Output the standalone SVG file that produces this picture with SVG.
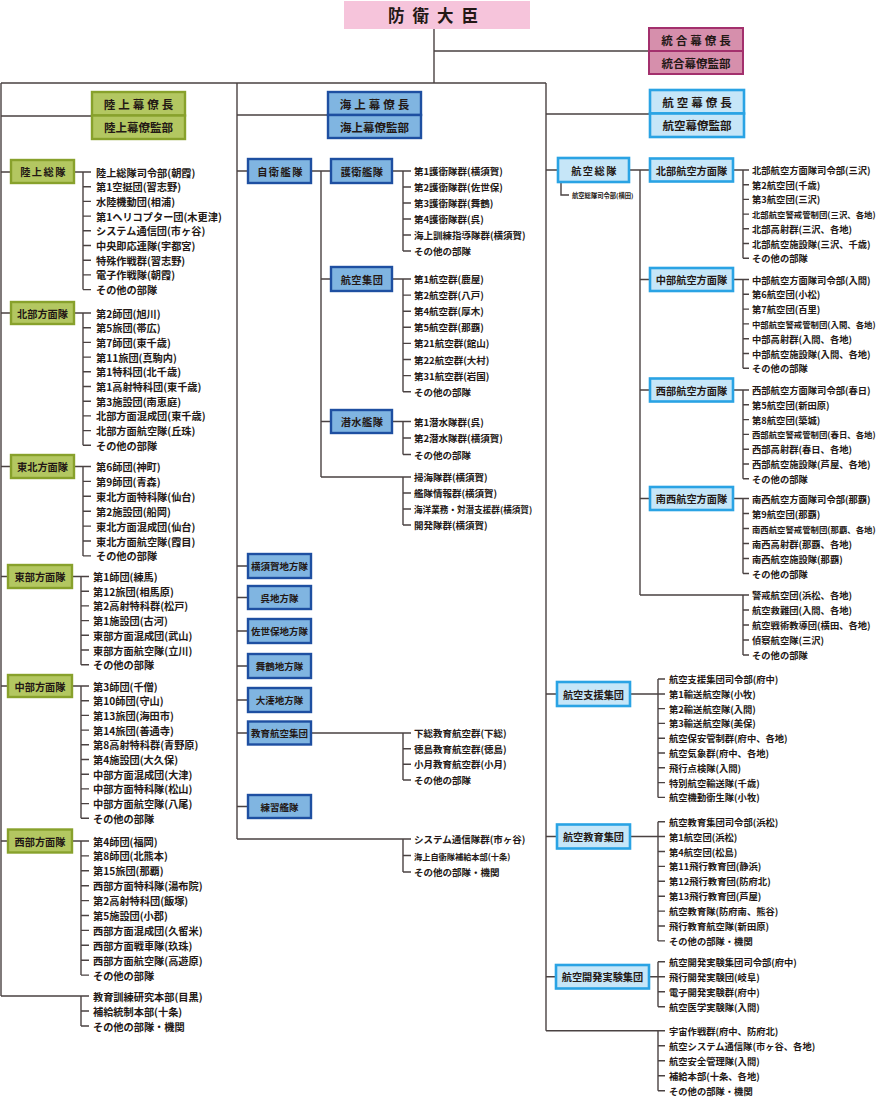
<svg xmlns="http://www.w3.org/2000/svg" width="878" height="1098" viewBox="0 0 878 1098">
<style>
.ln{stroke:#4a4242;stroke-width:1.4;fill:none}
.t{font-family:"Noto Sans CJK JP","Noto Sans CJK SC",sans-serif;fill:#231815;dominant-baseline:central}
.l{font-size:10.2px;font-weight:600}
.mm{font-size:9.5px;font-weight:600}
.r{font-size:9.3px;font-weight:600}
.nar{font-size:8.4px}
.b{font-weight:700;text-anchor:middle}
.g{fill:#b3c761;stroke:#88a12c;stroke-width:2.4}
.n{fill:#80b5e1;stroke:#1e4fa1;stroke-width:2.4}
.s{fill:#c6e6f8;stroke:#2aa3e4;stroke-width:2.6}
.mg{fill:#d68fac;stroke:#a3306d;stroke-width:2}
</style>
<g id="connectors" class="ln">
<path d="M434,29V83M434,51H649M1,83H546M1,83V996M237,83V839M546,83V1030.7M1,116H92M237,115H328M546,114H650"/>
<path d="M1,172H11M74,172H91M83,172V289.6M83,186.7H91M83,201.4H91M83,216.1H91M83,230.8H91M83,245.5H91M83,260.2H91M83,274.9H91M83,289.6H91"/>
<path d="M1,313H11M74,313H91M83,313V445.3M83,327.7H91M83,342.4H91M83,357.1H91M83,371.8H91M83,386.5H91M83,401.2H91M83,415.9H91M83,430.6H91M83,445.3H91"/>
<path d="M1,466.5H11M74,466.5H91M83,466.5V555.9M83,481.4H91M83,496.3H91M83,511.2H91M83,526.1H91M83,541H91M83,555.9H91"/>
<path d="M1,576.5H8M72,576.5H89M81,576.5V664.7M81,591.2H89M81,605.9H89M81,620.6H89M81,635.3H89M81,650H89M81,664.7H89"/>
<path d="M1,686H8M72,686H89M81,686V818.3M81,700.7H89M81,715.4H89M81,730.1H89M81,744.8H89M81,759.5H89M81,774.2H89M81,788.9H89M81,803.6H89M81,818.3H89"/>
<path d="M1,841H8M72,841H89M81,841V975.1M81,855.9H89M81,870.8H89M81,885.7H89M81,900.6H89M81,915.5H89M81,930.4H89M81,945.3H89M81,960.2H89M81,975.1H89"/>
<path d="M1,996H89M81,996V1026M81,1011H89M81,1026H89"/>
<path d="M237,171H248M311,171H331M321,171V477M321,279H331M321,421.5H331M321,477H411M403,477V525M403,493H411M403,509H411M403,525H411"/>
<path d="M392,171H411M403,171V251M403,187H411M403,203H411M403,219H411M403,235H411M403,251H411"/>
<path d="M392,279H411M403,279V391.7M403,295.1H411M403,311.2H411M403,327.3H411M403,343.4H411M403,359.5H411M403,375.6H411M403,391.7H411"/>
<path d="M392,421.5H411M403,421.5V454.5M403,438H411M403,454.5H411"/>
<path d="M237,566H248M237,597.5H248M237,631H248M237,666H248M237,700H248M237,733H248M237,806.5H248"/>
<path d="M311,733H411M403,733V780M403,748.7H411M403,764.3H411M403,780H411"/>
<path d="M237,839H411M403,839V872M403,855.5H411M403,872H411"/>
<path d="M546,170H558M561,182V195H569M629,170H650M640,170V595M640,279.5H650M640,390H650M640,498.5H650M640,595H749M743,595V655M743,610H749M743,625H749M743,640H749M743,655H749"/>
<path d="M733,170H749M743,170V258.2M743,184.7H749M743,199.4H749M743,214.1H749M743,228.8H749M743,243.5H749M743,258.2H749"/>
<path d="M733,279.5H749M743,279.5V368.3M743,294.3H749M743,309.1H749M743,323.9H749M743,338.7H749M743,353.5H749M743,368.3H749"/>
<path d="M733,390H749M743,390V478.8M743,404.8H749M743,419.6H749M743,434.4H749M743,449.2H749M743,464H749M743,478.8H749"/>
<path d="M733,498.5H749M743,498.5V573.5M743,513.5H749M743,528.5H749M743,543.5H749M743,558.5H749M743,573.5H749"/>
<path d="M546,694H557M630,694H665M658,679V797.4M658,679H665M658,708.6H665M658,723.4H665M658,738.2H665M658,753H665M658,767.8H665M658,782.6H665M658,797.4H665"/>
<path d="M546,836.5H557M630,836.5H665M658,821.7V940.9M658,821.7H665M658,851.5H665M658,866.4H665M658,881.3H665M658,896.2H665M658,911.1H665M658,926H665M658,940.9H665"/>
<path d="M546,976.7H556M649,976.7H665M658,961.7V1006.7M658,961.7H665M658,991.7H665M658,1006.7H665"/>
<path d="M546,1030.7H665M658,1030.7V1090.7M658,1045.7H665M658,1060.7H665M658,1075.7H665M658,1090.7H665"/>
</g>
<g id="minister"><rect x="344" y="1" width="186" height="28" fill="#f6c4db"/><text class="t" x="388" y="15" style="font-size:16.5px;font-weight:700;letter-spacing:8px">防衛大臣</text></g>
<g id="joint"><rect class="mg" x="649" y="28" width="94" height="23"/><rect class="mg" x="649" y="51" width="94" height="23"/><text class="t b" x="697.5" y="39.5" style="font-size:11.5px;letter-spacing:3px">統合幕僚長</text><text class="t b" x="696" y="62.5" style="font-size:11.5px">統合幕僚監部</text></g>
<g id="gsdf"><rect class="g" x="92" y="92" width="93" height="23.5"/><rect class="g" x="92" y="115.5" width="93" height="23.5"/><text class="t b" x="140" y="104" style="font-size:11.5px;letter-spacing:3px">陸上幕僚長</text><text class="t b" x="138.5" y="127.3" style="font-size:11.5px">陸上幕僚監部</text></g>
<g id="msdf"><rect class="n" x="328" y="92" width="93" height="23"/><rect class="n" x="328" y="115" width="93" height="23"/><text class="t b" x="376" y="103.5" style="font-size:11.5px;letter-spacing:3px">海上幕僚長</text><text class="t b" x="374.5" y="126.5" style="font-size:11.5px">海上幕僚監部</text></g>
<g id="asdf"><rect class="s" x="650" y="90" width="94" height="23.5"/><rect class="s" x="650" y="113.5" width="94" height="23.5"/><text class="t b" x="698.5" y="102" style="font-size:11.5px;letter-spacing:3px">航空幕僚長</text><text class="t b" x="697" y="125.3" style="font-size:11.5px">航空幕僚監部</text></g>

<g id="g-soutai"><rect class="g" x="11" y="160" width="63" height="23"/><text class="t b" x="43.5" y="171.5" style="font-size:10.2px;letter-spacing:1.5px">陸上総隊</text>
<g class="t l"><text x="96" y="172">陸上総隊司令部(朝霞)</text><text x="96" y="186.7">第1空挺団(習志野)</text><text x="96" y="201.4">水陸機動団(相浦)</text><text x="96" y="216.1">第1ヘリコプター団(木更津)</text><text x="96" y="230.8">システム通信団(市ヶ谷)</text><text x="96" y="245.5">中央即応連隊(宇都宮)</text><text x="96" y="260.2">特殊作戦群(習志野)</text><text x="96" y="274.9">電子作戦隊(朝霞)</text><text x="96" y="289.6">その他の部隊</text></g></g>
<g id="g-hokubu"><rect class="g" x="11" y="302" width="63" height="22"/><text class="t b" x="42.5" y="313" style="font-size:10.2px">北部方面隊</text>
<g class="t l"><text x="96" y="313">第2師団(旭川)</text><text x="96" y="327.7">第5旅団(帯広)</text><text x="96" y="342.4">第7師団(東千歳)</text><text x="96" y="357.1">第11旅団(真駒内)</text><text x="96" y="371.8">第1特科団(北千歳)</text><text x="96" y="386.5">第1高射特科団(東千歳)</text><text x="96" y="401.2">第3施設団(南恵庭)</text><text x="96" y="415.9">北部方面混成団(東千歳)</text><text x="96" y="430.6">北部方面航空隊(丘珠)</text><text x="96" y="445.3">その他の部隊</text></g></g>
<g id="g-tohoku"><rect class="g" x="11" y="455" width="63" height="23"/><text class="t b" x="42.5" y="466.5" style="font-size:10.2px">東北方面隊</text>
<g class="t l"><text x="96" y="466.5">第6師団(神町)</text><text x="96" y="481.4">第9師団(青森)</text><text x="96" y="496.3">東北方面特科隊(仙台)</text><text x="96" y="511.2">第2施設団(船岡)</text><text x="96" y="526.1">東北方面混成団(仙台)</text><text x="96" y="541">東北方面航空隊(霞目)</text><text x="96" y="555.9">その他の部隊</text></g></g>
<g id="g-tobu"><rect class="g" x="8" y="565" width="64" height="23"/><text class="t b" x="40" y="576.5" style="font-size:10.2px">東部方面隊</text>
<g class="t l"><text x="93" y="576.5">第1師団(練馬)</text><text x="93" y="591.2">第12旅団(相馬原)</text><text x="93" y="605.9">第2高射特科群(松戸)</text><text x="93" y="620.6">第1施設団(古河)</text><text x="93" y="635.3">東部方面混成団(武山)</text><text x="93" y="650">東部方面航空隊(立川)</text><text x="93" y="664.7">その他の部隊</text></g></g>
<g id="g-chubu"><rect class="g" x="8" y="675" width="64" height="22"/><text class="t b" x="40" y="686" style="font-size:10.2px">中部方面隊</text>
<g class="t l"><text x="93" y="686">第3師団(千僧)</text><text x="93" y="700.7">第10師団(守山)</text><text x="93" y="715.4">第13旅団(海田市)</text><text x="93" y="730.1">第14旅団(善通寺)</text><text x="93" y="744.8">第8高射特科群(青野原)</text><text x="93" y="759.5">第4施設団(大久保)</text><text x="93" y="774.2">中部方面混成団(大津)</text><text x="93" y="788.9">中部方面特科隊(松山)</text><text x="93" y="803.6">中部方面航空隊(八尾)</text><text x="93" y="818.3">その他の部隊</text></g></g>
<g id="g-seibu"><rect class="g" x="8" y="829.5" width="64" height="23"/><text class="t b" x="40" y="841" style="font-size:10.2px">西部方面隊</text>
<g class="t l"><text x="93" y="841">第4師団(福岡)</text><text x="93" y="855.9">第8師団(北熊本)</text><text x="93" y="870.8">第15旅団(那覇)</text><text x="93" y="885.7">西部方面特科隊(湯布院)</text><text x="93" y="900.6">第2高射特科団(飯塚)</text><text x="93" y="915.5">第5施設団(小郡)</text><text x="93" y="930.4">西部方面混成団(久留米)</text><text x="93" y="945.3">西部方面戦車隊(玖珠)</text><text x="93" y="960.2">西部方面航空隊(高遊原)</text><text x="93" y="975.1">その他の部隊</text></g></g>
<g id="g-other" class="t l"><text x="93" y="996">教育訓練研究本部(目黒)</text><text x="93" y="1011">補給統制本部(十条)</text><text x="93" y="1026">その他の部隊・機関</text></g>

<g id="m-jieikantai"><rect class="n" x="248" y="159" width="63" height="24"/><text class="t b" x="280.5" y="171" style="font-size:10.2px;letter-spacing:1.5px">自衛艦隊</text></g>
<g id="m-goei"><rect class="n" x="331" y="159" width="61" height="24"/><text class="t b" x="362" y="171" style="font-size:10.2px;letter-spacing:0.5px">護衛艦隊</text>
<g class="t mm"><text x="414" y="171">第1護衛隊群(横須賀)</text><text x="414" y="187">第2護衛隊群(佐世保)</text><text x="414" y="203">第3護衛隊群(舞鶴)</text><text x="414" y="219">第4護衛隊群(呉)</text><text x="414" y="235">海上訓練指導隊群(横須賀)</text><text x="414" y="251">その他の部隊</text></g></g>
<g id="m-koku"><rect class="n" x="331" y="267" width="61" height="24"/><text class="t b" x="362" y="279" style="font-size:10.2px;letter-spacing:0.5px">航空集団</text>
<g class="t mm"><text x="414" y="279">第1航空群(鹿屋)</text><text x="414" y="295.1">第2航空群(八戸)</text><text x="414" y="311.2">第4航空群(厚木)</text><text x="414" y="327.3">第5航空群(那覇)</text><text x="414" y="343.4">第21航空群(館山)</text><text x="414" y="359.5">第22航空群(大村)</text><text x="414" y="375.6">第31航空群(岩国)</text><text x="414" y="391.7">その他の部隊</text></g></g>
<g id="m-sensui"><rect class="n" x="331" y="410" width="61" height="23"/><text class="t b" x="362" y="421.5" style="font-size:10.2px;letter-spacing:0.5px">潜水艦隊</text>
<g class="t mm"><text x="414" y="421.5">第1潜水隊群(呉)</text><text x="414" y="438">第2潜水隊群(横須賀)</text><text x="414" y="454.5">その他の部隊</text></g></g>
<g id="m-fleet-other" class="t mm"><text x="414" y="477">掃海隊群(横須賀)</text><text x="414" y="493">艦隊情報群(横須賀)</text><text x="414" y="509" style="font-size:8.6px">海洋業務・対潜支援群(横須賀)</text><text x="414" y="525">開発隊群(横須賀)</text></g>
<g id="m-yokosuka"><rect class="n" x="248" y="554" width="63" height="24"/><text class="t b" x="279.5" y="566" style="font-size:9.5px">横須賀地方隊</text></g>
<g id="m-kure"><rect class="n" x="248" y="586" width="63" height="23"/><text class="t b" x="279.5" y="597.5" style="font-size:9.5px">呉地方隊</text></g>
<g id="m-sasebo"><rect class="n" x="248" y="619" width="63" height="24"/><text class="t b" x="279.5" y="631" style="font-size:9.5px">佐世保地方隊</text></g>
<g id="m-maizuru"><rect class="n" x="248" y="654" width="63" height="24"/><text class="t b" x="279.5" y="666" style="font-size:9.5px">舞鶴地方隊</text></g>
<g id="m-ominato"><rect class="n" x="248" y="688" width="63" height="24"/><text class="t b" x="279.5" y="700" style="font-size:9.5px">大湊地方隊</text></g>
<g id="m-kyoiku"><rect class="n" x="248" y="721.5" width="63" height="23"/><text class="t b" x="279.5" y="733" style="font-size:9.5px">教育航空集団</text>
<g class="t mm"><text x="414" y="733">下総教育航空群(下総)</text><text x="414" y="748.7">徳島教育航空群(徳島)</text><text x="414" y="764.3">小月教育航空群(小月)</text><text x="414" y="780">その他の部隊</text></g></g>
<g id="m-renshu"><rect class="n" x="248" y="795" width="63" height="23"/><text class="t b" x="279.5" y="806.5" style="font-size:9.5px">練習艦隊</text></g>
<g id="m-other" class="t mm"><text x="414" y="839">システム通信隊群(市ヶ谷)</text><text x="414" y="855.5" style="font-size:8.2px">海上自衛隊補給本部(十条)</text><text x="414" y="872">その他の部隊・機関</text></g>

<g id="a-sotai"><rect class="s" x="558" y="158" width="71" height="24"/><text class="t b" x="594.5" y="170" style="font-size:10.2px;letter-spacing:1.5px">航空総隊</text><text class="t" x="572" y="195" style="font-size:6.3px;font-weight:600">航空総隊司令部(横田)</text></g>
<g id="a-hokubu"><rect class="s" x="650" y="158.5" width="83" height="23"/><text class="t b" x="691.5" y="170" style="font-size:10.2px">北部航空方面隊</text>
<g class="t r"><text x="752" y="170">北部航空方面隊司令部(三沢)</text><text x="752" y="184.7">第2航空団(千歳)</text><text x="752" y="199.4">第3航空団(三沢)</text><text class="nar" x="752" y="214.1">北部航空警戒管制団(三沢、各地)</text><text x="752" y="228.8">北部高射群(三沢、各地)</text><text x="752" y="243.5">北部航空施設隊(三沢、千歳)</text><text x="752" y="258.2">その他の部隊</text></g></g>
<g id="a-chubu"><rect class="s" x="650" y="268" width="83" height="23"/><text class="t b" x="691.5" y="279.5" style="font-size:10.2px">中部航空方面隊</text>
<g class="t r"><text x="752" y="279.5">中部航空方面隊司令部(入間)</text><text x="752" y="294.3">第6航空団(小松)</text><text x="752" y="309.1">第7航空団(百里)</text><text class="nar" x="752" y="323.9">中部航空警戒管制団(入間、各地)</text><text x="752" y="338.7">中部高射群(入間、各地)</text><text x="752" y="353.5">中部航空施設隊(入間、各地)</text><text x="752" y="368.3">その他の部隊</text></g></g>
<g id="a-seibu"><rect class="s" x="650" y="378.5" width="83" height="23"/><text class="t b" x="691.5" y="390" style="font-size:10.2px">西部航空方面隊</text>
<g class="t r"><text x="752" y="390">西部航空方面隊司令部(春日)</text><text x="752" y="404.8">第5航空団(新田原)</text><text x="752" y="419.6">第8航空団(築城)</text><text class="nar" x="752" y="434.4">西部航空警戒管制団(春日、各地)</text><text x="752" y="449.2">西部高射群(春日、各地)</text><text x="752" y="464">西部航空施設隊(芦屋、各地)</text><text x="752" y="478.8">その他の部隊</text></g></g>
<g id="a-nansei"><rect class="s" x="650" y="487" width="83" height="23"/><text class="t b" x="691.5" y="498.5" style="font-size:10.2px">南西航空方面隊</text>
<g class="t r"><text x="752" y="498.5">南西航空方面隊司令部(那覇)</text><text x="752" y="513.5">第9航空団(那覇)</text><text class="nar" x="752" y="528.5">南西航空警戒管制団(那覇、各地)</text><text x="752" y="543.5">南西高射群(那覇、各地)</text><text x="752" y="558.5">南西航空施設隊(那覇)</text><text x="752" y="573.5">その他の部隊</text></g></g>
<g id="a-sotai-other" class="t r"><text x="752" y="595">警戒航空団(浜松、各地)</text><text x="752" y="610">航空救難団(入間、各地)</text><text x="752" y="625">航空戦術教導団(横田、各地)</text><text x="752" y="640">偵察航空隊(三沢)</text><text x="752" y="655">その他の部隊</text></g>
<g id="a-shien"><rect class="s" x="557" y="682" width="73" height="24"/><text class="t b" x="593.5" y="694" style="font-size:10.2px">航空支援集団</text>
<g class="t r"><text x="669" y="679">航空支援集団司令部(府中)</text><text x="669" y="693.8">第1輸送航空隊(小牧)</text><text x="669" y="708.6">第2輸送航空隊(入間)</text><text x="669" y="723.4">第3輸送航空隊(美保)</text><text x="669" y="738.2">航空保安管制群(府中、各地)</text><text x="669" y="753">航空気象群(府中、各地)</text><text x="669" y="767.8">飛行点検隊(入間)</text><text x="669" y="782.6">特別航空輸送隊(千歳)</text><text x="669" y="797.4">航空機動衛生隊(小牧)</text></g></g>
<g id="a-kyoiku"><rect class="s" x="557" y="824.5" width="73" height="24"/><text class="t b" x="593.5" y="836.5" style="font-size:10.2px">航空教育集団</text>
<g class="t r"><text x="669" y="821.7">航空教育集団司令部(浜松)</text><text x="669" y="836.6">第1航空団(浜松)</text><text x="669" y="851.5">第4航空団(松島)</text><text x="669" y="866.4">第11飛行教育団(静浜)</text><text x="669" y="881.3">第12飛行教育団(防府北)</text><text x="669" y="896.2">第13飛行教育団(芦屋)</text><text x="669" y="911.1">航空教育隊(防府南、熊谷)</text><text x="669" y="926">飛行教育航空隊(新田原)</text><text x="669" y="940.9">その他の部隊・機関</text></g></g>
<g id="a-kaihatsu"><rect class="s" x="556" y="965" width="93" height="23.5"/><text class="t b" x="602.5" y="976.7" style="font-size:10.2px">航空開発実験集団</text>
<g class="t r"><text x="669" y="961.7">航空開発実験集団司令部(府中)</text><text x="669" y="976.7">飛行開発実験団(岐阜)</text><text x="669" y="991.7">電子開発実験群(府中)</text><text x="669" y="1006.7">航空医学実験隊(入間)</text></g></g>
<g id="a-other" class="t r"><text x="669" y="1030.7">宇宙作戦群(府中、防府北)</text><text x="669" y="1045.7">航空システム通信隊(市ヶ谷、各地)</text><text x="669" y="1060.7">航空安全管理隊(入間)</text><text x="669" y="1075.7">補給本部(十条、各地)</text><text x="669" y="1090.7">その他の部隊・機関</text></g>
</svg>
